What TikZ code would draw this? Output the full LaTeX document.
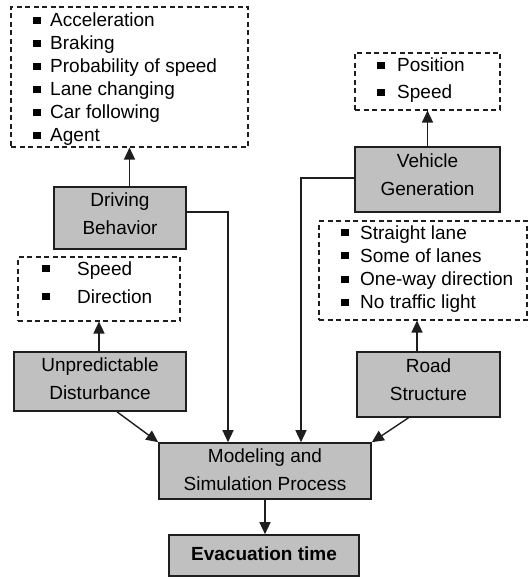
\documentclass[tikz,border=0pt]{standalone}
\usepackage{fontspec}
\setmainfont{Liberation Sans}
\usetikzlibrary{arrows.meta}
\definecolor{boxgray}{RGB}{192,192,192}
\definecolor{edge}{RGB}{30,30,30}
\newcommand{\bul}[1]{\makebox[#1][l]{\rule[3pt]{8pt}{7pt}}}
\begin{document}
\begin{tikzpicture}[x=1pt,y=-1pt,
  gbox/.style={draw=edge, line width=1.6pt, fill=boxgray, inner sep=0pt},
  btext/.style={font=\fontsize{19}{28}\selectfont, align=center, inner sep=0pt},
  lbox/.style={draw=edge, dash pattern=on 5pt off 3.5pt, line width=1.1pt, inner sep=0pt},
  item/.style={font=\fontsize{19}{23}\selectfont, inner sep=0pt, anchor=base west},
  arr/.style={-{Triangle[width=11pt,length=12pt]}, line width=1.4pt, draw=edge}]
\useasboundingbox (0,0) rectangle (530,580);

% dashed list boxes
\node[lbox, minimum width=237pt, minimum height=140pt] (beh) at (129.5,77) {};
\node[lbox, minimum width=145pt, minimum height=57pt] (pos) at (427.5,81.5) {};
\node[lbox, minimum width=208pt, minimum height=99pt] (rdl) at (423,270.5) {};
\node[lbox, minimum width=162pt, minimum height=64pt] (dsl) at (99,289) {};

% list items
\foreach \t [count=\i] in {Acceleration,Braking,Probability of speed,Lane changing,Car following,Agent}
  \node[item] (beh\i) at (33,{27+23*(\i-1)}) {\bul{17pt}\t};
\foreach \t [count=\i] in {Position,Speed}
  \node[item] (pos\i) at (377,{72+27*(\i-1)}) {\bul{20pt}\t};
\foreach \t [count=\i] in {Straight lane,Some of lanes,One-way direction,No traffic light}
  \node[item] (rdl\i) at (341,{239+23.3*(\i-1)}) {\bul{19pt}\t};
\foreach \t [count=\i] in {Speed,Direction}
  \node[item] (dsl\i) at (42,{275+28*(\i-1)}) {\bul{35pt}\t};

% gray boxes
\node[gbox, minimum width=145pt, minimum height=65pt] (veh) at (427.5,179.5) {};
\node[gbox, minimum width=132pt, minimum height=62pt] (drv) at (120,218) {};
\node[gbox, minimum width=172pt, minimum height=59pt] (dis) at (100,381.5) {};
\node[gbox, minimum width=143pt, minimum height=65pt] (road) at (428.5,384.5) {};
\node[gbox, minimum width=212pt, minimum height=56pt] (model) at (265,471) {};
\node[gbox, minimum width=190pt, minimum height=41pt] (evac) at (264,555.5) {};

% box texts
\node[btext] (vehT) at ([yshift=5pt]veh.center) {Vehicle\\Generation};
\node[btext] (drvT) at ([yshift=4pt]drv.center) {Driving\\Behavior};
\node[btext] (disT) at ([yshift=2.5pt]dis.center) {Unpredictable\\Disturbance};
\node[btext] (roadT) at ([yshift=5pt]road.center) {Road\\Structure};
\node[btext] (modelT) at ([yshift=1pt]model.center) {Modeling and\\Simulation Process};
\node[btext, font=\fontsize{19}{28}\selectfont\bfseries] (evacT) at ([yshift=2pt]evac.center) {Evacuation time};

% connectors
\draw[arr] (beh.south |- drv.north) -- (beh.south);
\draw[arr] (veh.north) -- (pos.south);
\draw[arr] (dsl.south |- dis.north) -- (dsl.south);
\draw[arr] ([xshift=-6pt]rdl.south |- road.north) -- ([xshift=-6pt]rdl.south);
\draw[arr] ([yshift=6pt]drv.east) -| ([xshift=-37pt]model.north);
\draw[arr] ([yshift=1.5pt]veh.west) -| ([xshift=36pt]model.north);
\draw[arr] ([xshift=17pt]dis.south) -- (model.north west);
\draw[arr] ([xshift=-20pt]road.south) -- (model.north east);
\draw[arr] (model.south) -- (model.south |- evac.north);
\end{tikzpicture}
\end{document}
